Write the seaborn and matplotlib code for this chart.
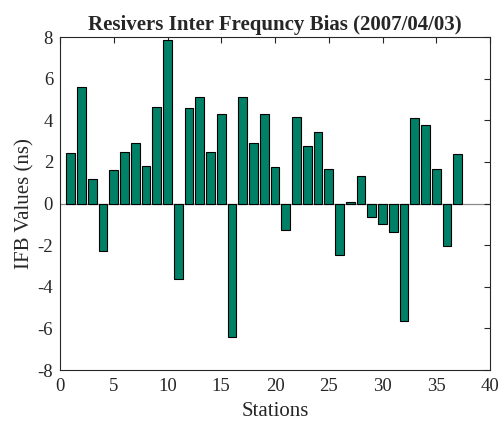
import numpy as np
import pandas as pd
import matplotlib
matplotlib.use("Agg")
import matplotlib.pyplot as plt
import seaborn as sns

stations = list(range(1, 38))
ifb_values = [2.43, 5.60, 1.20, -2.30, 1.62, 2.50, 2.91, 1.78, 4.66, 7.86,
              -3.62, 4.59, 5.12, 2.46, 4.32, -6.40, 5.10, 2.91, 4.30, 1.74,
              -1.26, 4.16, 2.77, 3.44, 1.66, -2.48, 0.08, 1.30, -0.66, -1.00,
              -1.39, -5.66, 4.10, 3.79, 1.66, -2.03, 2.40]
xticks = [0, 5, 10, 15, 20, 25, 30, 35, 40]
yticks = [-8, -6, -4, -2, 0, 2, 4, 6, 8]

df = pd.DataFrame({"Station": stations, "IFB": ifb_values})

sns.set_style("white")
plt.rcParams['font.family'] = ['Liberation Serif', 'DejaVu Serif']

fig = plt.figure(figsize=(5.03, 4.21), dpi=100)
ax = fig.add_axes([0.1193, 0.1211, 0.8549, 0.7909])

ax.axhline(0, color="#8c8c8c", linewidth=0.9, zorder=0.5)
sns.barplot(data=df, x="Station", y="IFB", native_scale=True, color="#008066",
            saturation=1, edgecolor="black", linewidth=0.8, width=0.8, ax=ax)

ax.set_xlim(0, 40)
ax.set_ylim(-8, 8)
ax.set_xticks(xticks)
ax.set_yticks(yticks)
ax.set_xticklabels([str(t) for t in xticks])
ax.set_yticklabels([str(t) for t in yticks])
ax.tick_params(direction="in", length=4, width=0.8, labelsize=13.5, top=True, right=True,
               colors="#262626", labelcolor="#262626")
ax.tick_params(axis="x", pad=6)
ax.tick_params(axis="y", pad=5)
for s in ax.spines.values():
    s.set_visible(True)
    s.set_color("#262626")
    s.set_linewidth(0.8)

ax.set_xlabel("Stations", fontsize=15, color="#262626", labelpad=5)
ax.set_ylabel("IFB Values (ns)", fontsize=15, color="#262626", labelpad=2)
ax.set_title("Resivers Inter Frequncy Bias (2007/04/03)", fontsize=15, fontweight="bold", pad=5)

fig.savefig("out.png", dpi=100)
